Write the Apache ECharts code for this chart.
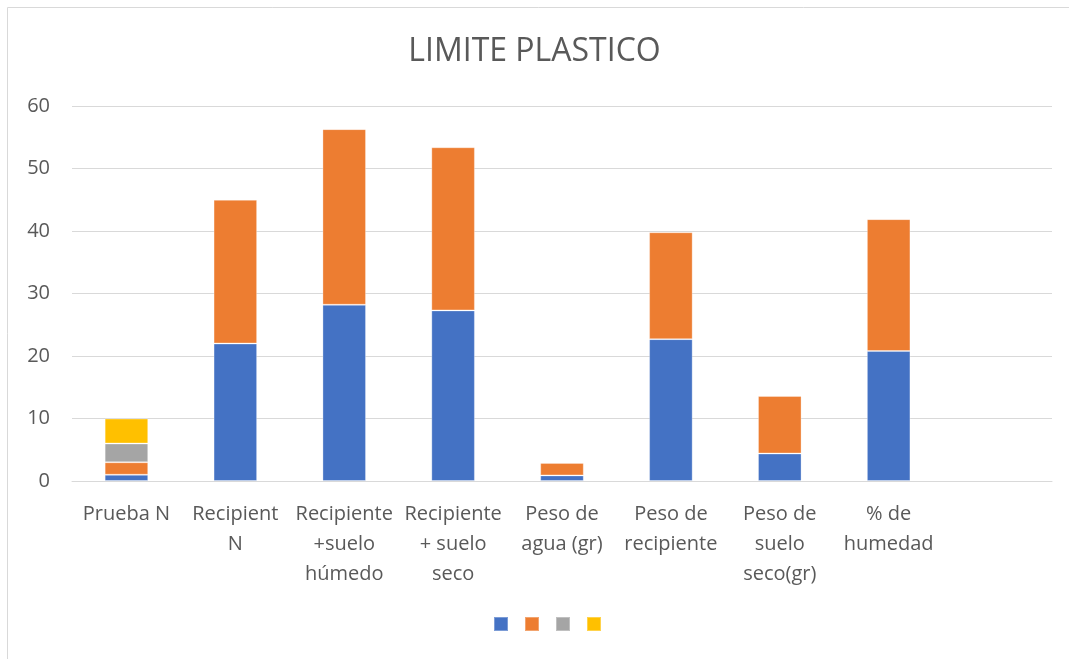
<!DOCTYPE html>
<html>
<head>
<meta charset="utf-8">
<script src="https://cdn.jsdelivr.net/npm/echarts@6/dist/echarts.min.js"></script>
<style>
    html, body { margin: 0; padding: 0; background: #fff; }
    #main { width: 1069px; height: 659px; }
</style>
</head>
<body>
<div id="main"></div>
<script>
// categorias del eje x (la ultima va vacia)
var categorias = ['Prueba N', 'Recipient\nN', 'Recipiente\n+suelo\nhúmedo', 'Recipiente\n+ suelo\nseco',
    'Peso de\nagua (gr)', 'Peso de\nrecipiente', 'Peso de\nsuelo\nseco(gr)', '% de\nhumedad', ''];
var serie1 = [1, 22, 28.2, 27.3, 0.9, 22.7, 4.4, 20.8, null];
var serie2 = [2, 23, 28.1, 26.1, 2.0, 17.1, 9.2, 21.1, null];
var serie3 = [3, null, null, null, null, null, null, null, null];
var serie4 = [4, null, null, null, null, null, null, null, null];
var nombres = ['S1', 'S2', 'S3', 'S4'];
var colores = ['#4472c4', '#ed7d31', '#a5a5a5', '#ffc000'];
var yTicks = [0, 10, 20, 30, 40, 50, 60];

var chart = echarts.init(document.getElementById('main'), null, { renderer: 'canvas' });
var datos = [serie1, serie2, serie3, serie4];

var option = {
    animation: false,
    color: colores,
    title: {
        text: 'LIMITE PLASTICO',
        left: 'center',
        top: 31,
        textStyle: {
            color: '#595959',
            fontSize: 32,
            fontWeight: 'normal',
            fontFamily: 'Open Sans'
        }
    },
    graphic: [{
        type: 'polyline',
        shape: { points: [[7.5, 670], [7.5, 7.5], [1069, 7.5]] },
        style: { stroke: '#d9d9d9', fill: null, lineWidth: 1 },
        silent: true
    }],
    legend: {
        bottom: 22,
        left: 488,
        itemWidth: 14,
        itemHeight: 14,
        itemGap: 15,
        icon: 'rect',
        data: nombres,
        formatter: function () { return ''; },
        textStyle: { fontSize: 1 }
    },
    grid: {
        left: 72,
        right: 17,
        top: 106,
        bottom: 178,
        containLabel: false
    },
    xAxis: {
        type: 'category',
        data: categorias,
        axisLine: { lineStyle: { color: '#d9d9d9' } },
        axisTick: { show: false },
        axisLabel: {
            color: '#595959',
            fontSize: 20,
            fontFamily: 'Open Sans',
            lineHeight: 30,
            margin: 18,
            interval: 0
        }
    },
    yAxis: {
        type: 'value',
        min: yTicks[0],
        max: yTicks[yTicks.length - 1],
        interval: 10,
        axisLine: { show: false },
        axisTick: { show: false },
        splitLine: { lineStyle: { color: '#d9d9d9' } },
        axisLabel: {
            color: '#595959',
            fontSize: 20,
            fontFamily: 'Open Sans',
            margin: 22
        }
    },
    series: nombres.map(function (n, i) {
        return {
            name: n,
            type: 'bar',
            stack: 'total',
            barWidth: '40%',
            data: datos[i],
            itemStyle: { borderColor: 'rgba(255,255,255,0.3)', borderWidth: 1 }
        };
    })
};

chart.setOption(option);
</script>
</body>
</html>
